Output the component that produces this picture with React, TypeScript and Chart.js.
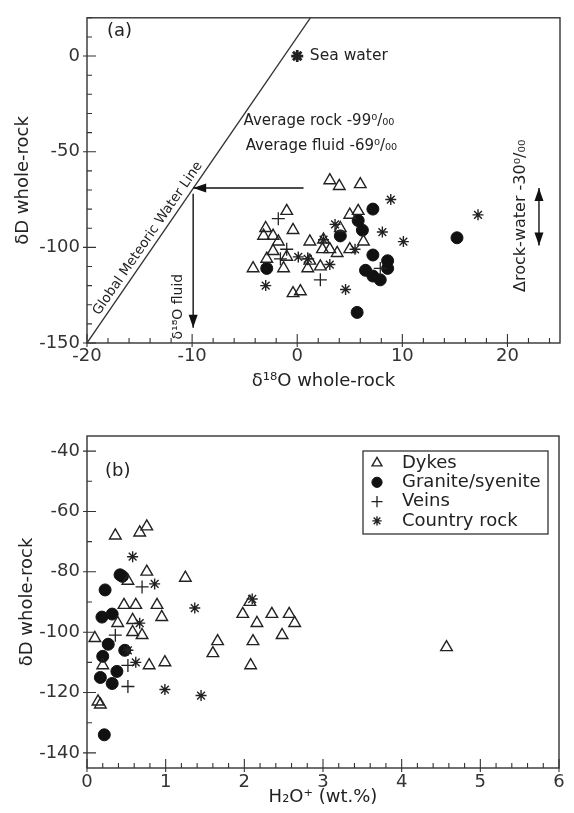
import React, { useEffect, useRef } from 'react';
import { Chart, registerables } from 'chart.js';
import { drawPoint } from 'chart.js/helpers';

Chart.register(...registerables);

type P = [number, number];

const FONT = "'DejaVu Sans', 'Liberation Sans', sans-serif";
const INK = '#222';

// ---------- Panel (a): δ18O whole-rock vs δD whole-rock ----------
const aDykes: P[] = [
  [3.1, -65], [4.0, -68], [6.0, -67], [-1.0, -81], [5.0, -83], [5.8, -81],
  [-3.0, -90], [-0.4, -91], [-3.2, -94], [-2.3, -94], [-1.8, -97], [1.2, -97],
  [2.5, -96], [4.1, -90], [6.3, -97], [-2.9, -106], [-2.3, -102], [-1.0, -105],
  [2.4, -101], [3.1, -101], [3.8, -103], [5.0, -101], [-4.2, -111], [-1.3, -111],
  [1.0, -111], [2.2, -110], [1.2, -107], [-0.4, -124], [0.3, -123],
];
const aGranite: P[] = [
  [7.2, -80], [5.8, -86], [6.2, -91], [4.1, -94], [-2.9, -111], [7.2, -104],
  [8.6, -107], [6.5, -112], [7.2, -115], [7.9, -117], [5.7, -134], [8.6, -111],
  [15.2, -95],
];
const aVeins: P[] = [
  [-1.8, -85], [-1.0, -101], [-1.6, -106], [2.2, -117], [1.0, -106], [7.9, -111],
];
const aCountry: P[] = [
  [8.9, -75], [3.6, -88], [8.1, -92], [0.1, -105], [1.0, -106], [2.5, -96],
  [3.1, -109], [5.5, -101], [-3.0, -120], [4.6, -122], [17.2, -83], [10.1, -97],
];
const aSeaWater: P[] = [[0, 0]];
const aGMWL: P[] = [[-20, -150], [1.25, 20]];
const aXTicks = [-20, -10, 0, 10, 20];
const aYTicks = [-150, -100, -50, 0];
const aArrowFluid: P[] = [[0.6, -69], [-9.9, -69]];
const aArrowO18: P[] = [[-9.9, -72], [-9.9, -142]];
const aArrowShift: P[] = [[23, -69], [23, -99]];

// ---------- Panel (b): H2O+ vs δD whole-rock ----------
const bDykes: P[] = [
  [0.36, -68], [0.67, -67], [0.76, -65], [0.52, -83], [0.76, -80], [1.25, -82],
  [0.47, -91], [0.62, -91], [0.89, -91], [0.95, -95], [0.39, -97], [0.58, -96],
  [0.58, -100], [0.70, -101], [0.10, -102], [0.20, -111], [0.79, -111], [0.99, -110],
  [0.14, -123], [0.17, -124], [1.66, -103], [1.60, -107], [1.98, -94], [2.07, -90],
  [2.16, -97], [2.35, -94], [2.57, -94], [2.64, -97], [2.48, -101], [2.11, -103],
  [2.08, -111], [4.57, -105],
];
const bGranite: P[] = [
  [0.42, -81], [0.45, -81.5], [0.23, -86], [0.19, -95], [0.32, -94], [0.27, -104],
  [0.20, -108], [0.48, -106], [0.38, -113], [0.17, -115], [0.32, -117], [0.22, -134],
];
const bVeins: P[] = [[0.70, -85], [0.36, -101], [0.52, -118], [0.52, -111]];
const bCountry: P[] = [
  [0.58, -75], [0.86, -84], [0.67, -97], [1.37, -92], [2.10, -89], [0.52, -106],
  [0.62, -110], [0.99, -119], [1.45, -121],
];
const bXTicks = [0, 1, 2, 3, 4, 5, 6];
const bYTicks = [-140, -120, -100, -80, -60, -40];
const legendItems = ['Dykes', 'Granite/syenite', 'Veins', 'Country rock'];

// ---------- styles ----------
const STY: Record<string, any> = {
  dykes: { pointStyle: 'triangle', radius: 6.7, bg: 'rgba(0,0,0,0)', border: INK, bw: 1.4 },
  granite: { pointStyle: 'circle', radius: 6, bg: '#111', border: '#111', bw: 1 },
  veins: { pointStyle: 'cross', radius: 6.5, bg: INK, border: INK, bw: 1.3 },
  country: { pointStyle: 'star', radius: 5.5, bg: INK, border: INK, bw: 1.4 },
};
const legendStyles = [STY.dykes, STY.granite, STY.veins, STY.country];

function ds(label: string, pts: P[], s: any): any {
  return {
    label,
    data: pts.map(([x, y]) => ({ x, y })),
    showLine: false,
    pointStyle: s.pointStyle,
    pointRadius: s.radius,
    pointHoverRadius: s.radius,
    pointBackgroundColor: s.bg,
    pointBorderColor: s.border,
    pointBorderWidth: s.bw,
  };
}

function scale(min: number, max: number, ticks: number[], title: string, isX: boolean, size: number, titlePad: any, tickPad: number): any {
  return {
    type: 'linear',
    min,
    max,
    grid: { display: false, drawTicks: false },
    border: { display: false },
    afterBuildTicks: (s: any) => { s.ticks = ticks.map((v) => ({ value: v })); },
    afterFit: (s: any) => { if (isX) s.height = size; else s.width = size; },
    ticks: {
      color: '#333',
      font: { family: FONT, size: 18 },
      padding: tickPad,
      autoSkip: false,
      maxRotation: 0,
      callback: (v: any) => String(v),
    },
    title: { display: true, text: title, color: INK, font: { family: FONT, size: 18 }, padding: titlePad },
  };
}

function range(a: number, b: number, step: number): number[] {
  const out: number[] = [];
  for (let v = a; v <= b + 1e-9; v += step) out.push(Math.round(v * 1000) / 1000);
  return out;
}

function frame(chart: any, xMaj: number[], xMin: number[], yMaj: number[], yMin: number[]) {
  const { ctx, chartArea: ca, scales } = chart;
  const xs = scales.x, ys = scales.y;
  ctx.save();
  ctx.strokeStyle = '#333';
  ctx.lineWidth = 1.4;
  ctx.strokeRect(ca.left, ca.top, ca.right - ca.left, ca.bottom - ca.top);
  ctx.lineWidth = 1.1;
  ctx.beginPath();
  xMaj.forEach((v) => { const p = xs.getPixelForValue(v); ctx.moveTo(p, ca.bottom + 4); ctx.lineTo(p, ca.bottom - 9); });
  xMin.forEach((v) => { const p = xs.getPixelForValue(v); ctx.moveTo(p, ca.bottom); ctx.lineTo(p, ca.bottom - 5); });
  yMaj.forEach((v) => { const p = ys.getPixelForValue(v); ctx.moveTo(ca.left - 4, p); ctx.lineTo(ca.left + 9, p); });
  yMin.forEach((v) => { const p = ys.getPixelForValue(v); ctx.moveTo(ca.left, p); ctx.lineTo(ca.left + 5, p); });
  ctx.stroke();
  ctx.restore();
}

function txt(ctx: any, s: string, x: number, y: number, size: number, align = 'left', rot = 0) {
  ctx.save();
  ctx.translate(x, y);
  ctx.rotate(rot);
  ctx.fillStyle = INK;
  ctx.font = `${size}px ${FONT}`;
  ctx.textAlign = align;
  ctx.textBaseline = 'middle';
  ctx.fillText(s, 0, 0);
  ctx.restore();
}

function head(ctx: any, tx: number, ty: number, fx: number, fy: number, len = 13, half = 4.5) {
  const a = Math.atan2(ty - fy, tx - fx);
  const bx = tx - len * Math.cos(a), by = ty - len * Math.sin(a);
  ctx.beginPath();
  ctx.moveTo(tx, ty);
  ctx.lineTo(bx + half * Math.sin(a), by - half * Math.cos(a));
  ctx.lineTo(bx - half * Math.sin(a), by + half * Math.cos(a));
  ctx.closePath();
  ctx.fill();
}

function arrow(chart: any, pts: P[], both = false) {
  const { ctx, scales } = chart;
  const x1 = scales.x.getPixelForValue(pts[0][0]), y1 = scales.y.getPixelForValue(pts[0][1]);
  const x2 = scales.x.getPixelForValue(pts[1][0]), y2 = scales.y.getPixelForValue(pts[1][1]);
  ctx.save();
  ctx.strokeStyle = '#111';
  ctx.fillStyle = '#111';
  ctx.lineWidth = 1.4;
  ctx.beginPath();
  ctx.moveTo(x1, y1);
  ctx.lineTo(x2, y2);
  ctx.stroke();
  head(ctx, x2, y2, x1, y1);
  if (both) head(ctx, x1, y1, x2, y2);
  ctx.restore();
}

const panelAPlugin = {
  id: 'panelA',
  afterDraw(chart: any) {
    const { ctx, scales } = chart;
    const xs = scales.x, ys = scales.y;
    const X = (v: number) => xs.getPixelForValue(v);
    const Y = (v: number) => ys.getPixelForValue(v);
    frame(chart, aXTicks, range(-20, 24, 2), aYTicks, range(-150, 20, 10));
    arrow(chart, aArrowFluid);
    arrow(chart, aArrowO18);
    arrow(chart, aArrowShift, true);
    txt(ctx, '(a)', X(-16.9), Y(13), 18, 'center');
    txt(ctx, 'Sea water', X(1.2), Y(0), 15.5);
    txt(ctx, 'Average rock -99⁰/₀₀', X(-5.1), Y(-34), 15);
    txt(ctx, 'Average fluid -69⁰/₀₀', X(-4.9), Y(-47), 15);
    txt(ctx, 'δ¹⁸O fluid', X(-11.3), Y(-131), 14, 'center', -Math.PI / 2);
    txt(ctx, 'Δrock-water -30⁰/₀₀', X(21.3), Y(-83.5), 16, 'center', -Math.PI / 2);
    const ang = Math.atan2(Y(aGMWL[1][1]) - Y(aGMWL[0][1]), X(aGMWL[1][0]) - X(aGMWL[0][0]));
    ctx.save();
    ctx.translate(X(-13.5), Y(-98));
    ctx.rotate(ang);
    ctx.fillStyle = INK;
    ctx.font = `13.5px ${FONT}`;
    ctx.textAlign = 'center';
    ctx.textBaseline = 'middle';
    ctx.fillText('Global Meteoric Water Line', 0, -9);
    ctx.restore();
  },
};

const panelBPlugin = {
  id: 'panelB',
  afterDraw(chart: any) {
    const { ctx, scales, chartArea: ca } = chart;
    const X = (v: number) => scales.x.getPixelForValue(v);
    const Y = (v: number) => scales.y.getPixelForValue(v);
    frame(chart, bXTicks, range(0, 6, 0.2), bYTicks, range(-140, -40, 10));
    txt(ctx, '(b)', X(0.39), Y(-46.6), 18, 'center');
    // legend box
    const lx = ca.right - 196, ly = ca.top + 15, lw = 185, lh = 83;
    ctx.save();
    ctx.strokeStyle = '#333';
    ctx.lineWidth = 1.3;
    ctx.strokeRect(lx, ly, lw, lh);
    legendItems.forEach((name, i) => {
      const cy = ly + 12 + i * 19.3;
      const s = legendStyles[i];
      ctx.fillStyle = s.bg;
      ctx.strokeStyle = s.border;
      ctx.lineWidth = s.bw;
      drawPoint(ctx, { pointStyle: s.pointStyle, radius: s.radius * 0.85, borderWidth: s.bw, rotation: 0 } as any, lx + 14, cy);
      txt(ctx, name, lx + 39, cy, 18);
    });
    ctx.restore();
  },
};

export default function App() {
  const refA = useRef<HTMLCanvasElement>(null);
  const refB = useRef<HTMLCanvasElement>(null);

  useEffect(() => {
    const common = {
      responsive: false,
      animation: false,
      events: [],
      plugins: { legend: { display: false }, tooltip: { enabled: false } },
    };
    const chartA = new Chart(refA.current as HTMLCanvasElement, {
      type: 'scatter',
      data: {
        datasets: [
          {
            label: 'GMWL',
            data: aGMWL.map(([x, y]) => ({ x, y })),
            showLine: true,
            borderColor: '#333',
            borderWidth: 1.3,
            pointRadius: 0,
          } as any,
          ds('Dykes', aDykes, STY.dykes),
          ds('Veins', aVeins, STY.veins),
          ds('Country rock', aCountry, STY.country),
          ds('Granite/syenite', aGranite, STY.granite),
          ds('Sea water', aSeaWater, { ...STY.country, bw: 2.8, radius: 6 }),
        ],
      },
      options: {
        ...common,
        layout: { padding: { top: 14, right: 14, left: 0, bottom: 0 } },
        scales: {
          x: scale(-20, 25, aXTicks, 'δ¹⁸O whole-rock', true, 57, { top: 0, bottom: 8 }, 3),
          y: scale(-150, 20, aYTicks, 'δD whole-rock', false, 87, { top: 13, bottom: 0 }, 7),
        },
      } as any,
      plugins: [panelAPlugin],
    });
    const chartB = new Chart(refB.current as HTMLCanvasElement, {
      type: 'scatter',
      data: {
        datasets: [
          ds('Dykes', bDykes, STY.dykes),
          ds('Veins', bVeins, STY.veins),
          ds('Country rock', bCountry, STY.country),
          ds('Granite/syenite', bGranite, STY.granite),
        ],
      },
      options: {
        ...common,
        layout: { padding: { top: 31, right: 15, left: 0, bottom: 0 } },
        scales: {
          x: scale(0, 6, bXTicks, 'H₂O⁺ (wt.%)', true, 45, { top: 0, bottom: 5 }, 4),
          y: scale(-145, -35, bYTicks, 'δD whole-rock', false, 87, { top: 17, bottom: 0 }, 7),
        },
      } as any,
      plugins: [panelBPlugin],
    });
    return () => {
      chartA.destroy();
      chartB.destroy();
    };
  }, []);

  return (
    <div style={{ position: 'absolute', left: 0, top: 0, width: 574, height: 813, background: '#fff' }}>
      <canvas ref={refA} width={574} height={400} style={{ position: 'absolute', left: 0, top: 0, width: 574, height: 400 }} />
      <canvas ref={refB} width={574} height={408} style={{ position: 'absolute', left: 0, top: 405, width: 574, height: 408 }} />
    </div>
  );
}
